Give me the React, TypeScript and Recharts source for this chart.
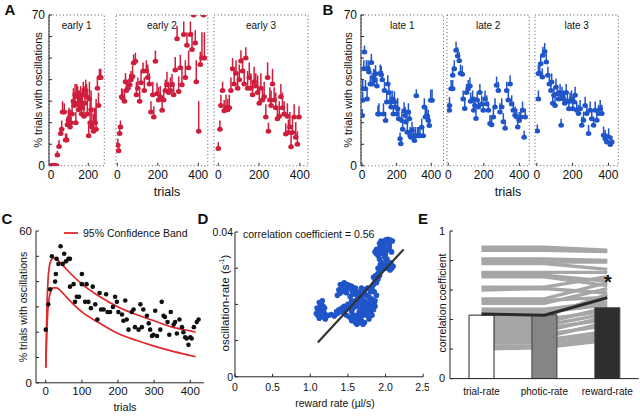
import React from 'react';
import {
  ScatterChart,
  Scatter,
  ComposedChart,
  Line,
  Bar,
  Cell,
  XAxis,
  YAxis,
  ErrorBar,
  ReferenceArea,
} from 'recharts';

const FONT = '"Liberation Sans", Arial, Helvetica, sans-serif';
const RED = '#cf1d3c';
const BLUE = '#1f55c8';
const BAND_RED = '#e3262c';

type Pt = [number, number, number]; // trial, % trials with oscillations, upper error

// ---- panel A: early sessions ----
const early1: Pt[] = [
  [0, 0, 0], [5, 0, 0], [10, 0, 0], [15, 0, 0], [20, 0, 0], [25, 0, 0], [30, 0, 0],
  [34, 5, 2], [43, 9, 3], [52, 15, 3], [57, 17, 4], [62, 25, 5], [71, 25, 4], [78, 12, 3],
  [84, 12, 3], [88, 19, 4], [93, 21, 5], [97, 22, 5], [102, 18, 8], [106, 20, 6], [113, 24, 7],
  [120, 30, 6], [125, 28, 6], [129, 33, 5], [133, 20, 5], [138, 32, 6], [143, 29, 8], [147, 26, 9],
  [152, 28, 7], [159, 30, 7], [164, 24, 8], [168, 27, 9], [173, 33, 6], [177, 23, 7], [182, 29, 8],
  [186, 35, 5], [191, 32, 6], [195, 24, 10], [202, 14, 5], [206, 31, 8], [210, 20, 10],
  [215, 26, 9], [219, 18, 9], [228, 16, 8], [233, 20, 7], [237, 20, 7], [242, 17, 14],
  [249, 36, 5], [255, 28, 6], [260, 41, 4], [267, 41, 4],
];
const early2: Pt[] = [
  [2, 9.5, 3], [6, 7, 2], [11, 15, 4], [15, 18, 3], [21, 32, 4], [26, 31.5, 4], [35, 30, 5],
  [40, 39, 4], [44, 35, 5], [52, 36, 4], [61, 37.6, 5], [67, 40, 4], [75, 41.5, 5], [80, 47.7, 4],
  [89, 48.5, 4], [94, 33, 6], [101, 36, 5], [110, 30, 5], [117, 38.6, 5], [127, 44, 4],
  [133, 35, 6], [143, 44, 5], [150, 41, 6], [158, 38, 5], [166, 25, 5], [175, 33, 6],
  [180, 22.6, 5], [188, 48.5, 5], [196, 33.5, 5], [204, 30.5, 6], [212, 32, 5], [221, 25.8, 6],
  [229, 30.5, 5], [237, 35, 5], [245, 37.6, 6], [253, 34, 5], [262, 35, 6], [270, 37.6, 5],
  [278, 33, 6], [286, 44.5, 6], [295, 59, 6], [303, 34.5, 7], [311, 45.5, 6], [319, 37.6, 7],
  [328, 61, 6], [336, 41, 8], [344, 56, 6], [352, 45.5, 8], [361, 61, 6], [369, 54, 8],
  [377, 70, 0], [385, 57, 6], [390, 39, 10], [402, 16, 14], [410, 47, 6], [418, 50, 12],
  [426, 70, 0], [430, 50, 12],
];
const early3: Pt[] = [
  [0, 8, 3], [8, 17, 4], [13, 28, 5], [21, 35, 4], [29, 25.5, 5], [38, 27, 6], [46, 26, 5],
  [54, 27, 6], [62, 35, 6], [70, 45, 5], [78, 38, 7], [87, 43, 6], [95, 36, 6], [103, 40, 7],
  [111, 48.6, 5], [119, 44, 6], [127, 38, 7], [135, 50, 5], [144, 36, 8], [152, 41, 7],
  [160, 36, 7], [168, 33, 6], [176, 39, 7], [184, 37, 6], [193, 34, 8], [201, 29, 7],
  [209, 36, 7], [217, 30.5, 6], [225, 32, 7], [233, 22.6, 6], [242, 41, 7], [246, 16, 4],
  [253, 30.5, 6], [259, 28, 7], [266, 38, 7], [274, 30.5, 6], [282, 27, 7], [290, 21.8, 6],
  [299, 23, 7], [307, 32, 6], [315, 27, 7], [323, 24, 6], [331, 14.8, 5], [339, 23, 6],
  [344, 15.5, 6], [351, 18, 7], [357, 8.8, 6], [364, 15.5, 7], [372, 22.6, 6], [380, 13.3, 7],
  [388, 10, 6], [396, 22.6, 5],
];

// ---- panel B: late sessions ----
const late1: Pt[] = [
  [1, 23.4, 3], [4, 30.4, 4], [4, 35.8, 4], [10, 45, 4], [14, 52.8, 3], [20, 35.8, 4],
  [25, 45, 4], [29, 31, 4], [35, 45, 4], [40, 43.5, 4], [48, 38, 4], [54, 48, 4], [59, 38, 5],
  [67, 41, 4], [72, 39.6, 5], [78, 42.7, 4], [86, 37, 4], [92, 24, 4], [98, 24, 5],
  [105, 43, 4], [111, 42.3, 4], [117, 40, 4], [124, 24, 5], [130, 35, 4], [136, 21, 4],
  [143, 29.6, 5], [149, 38, 4], [155, 34, 4], [162, 29.6, 5], [168, 27.3, 4], [174, 31, 4],
  [181, 24, 4], [187, 29.6, 5], [193, 27.3, 4], [201, 24, 4], [206, 26.5, 5], [212, 21.8, 4],
  [220, 12.5, 3], [224, 10.2, 3], [230, 21, 4], [235, 17, 4], [243, 25.5, 4], [249, 23.4, 4],
  [254, 20.3, 4], [262, 15.6, 4], [268, 25, 4], [274, 21.8, 4], [278, 14, 4], [283, 13.3, 4],
  [289, 16.4, 4], [297, 14, 4], [303, 11.7, 3], [308, 14, 4], [314, 32.5, 3], [320, 14, 4],
  [328, 14, 4], [335, 14, 4], [345, 17.9, 4], [354, 14, 4], [360, 27.3, 4], [366, 22.6, 4],
  [374, 23.4, 4], [383, 21, 5], [389, 18.7, 5], [397, 30.4, 5], [405, 30.4, 5],
];
const late2: Pt[] = [
  [6, 25.8, 3], [7, 28, 4], [16, 35.8, 4], [25, 35.8, 4], [25, 42, 4], [34, 45, 4],
  [44, 53.6, 4], [53, 51, 4], [62, 48.8, 4], [69, 43, 4], [79, 42.5, 4], [84, 31, 4],
  [93, 26.6, 4], [103, 34, 4], [112, 35.8, 4], [122, 37, 4], [126, 30, 4], [137, 31, 4],
  [144, 25.8, 4], [150, 28, 4], [156, 22, 4], [163, 30.5, 4], [169, 27.3, 4], [178, 34, 4],
  [188, 28.7, 4], [197, 25.8, 4], [207, 31, 4], [216, 28.7, 4], [226, 25.8, 4], [235, 19.6, 4],
  [244, 19, 4], [254, 22.6, 4], [263, 27.3, 4], [272, 37.4, 4], [282, 35, 4], [291, 25, 4],
  [301, 27.3, 4], [310, 20.4, 4], [320, 17.4, 4], [329, 35, 4], [338, 30.5, 4], [348, 38, 4],
  [357, 28.7, 4], [366, 25.8, 4], [376, 23.5, 4], [385, 22.6, 4], [391, 18, 4], [399, 21, 4],
  [408, 22.6, 4], [418, 25.8, 4], [427, 13.3, 3], [433, 22.6, 4],
];
const late3: Pt[] = [
  [3, 16.2, 3], [9, 31, 4], [9, 42.8, 4], [17, 42.8, 4], [22, 47.4, 4], [31, 41.2, 4],
  [34, 51.3, 4], [44, 53, 4], [53, 48.2, 4], [62, 42, 4], [70, 38, 4], [79, 35, 4],
  [83, 38.9, 4], [89, 29, 4], [96, 32.7, 4], [102, 28, 4], [107, 36.5, 4], [115, 33.5, 4],
  [122, 31, 4], [130, 34, 4], [136, 18.8, 3], [141, 32.7, 4], [149, 31, 4], [156, 29, 4],
  [164, 34, 4], [171, 30, 4], [179, 26.5, 4], [186, 30, 4], [194, 31, 4], [201, 26.5, 4],
  [209, 29.6, 4], [214, 32.7, 4], [223, 25.8, 4], [233, 24.3, 4], [242, 26.5, 4], [251, 18.8, 4],
  [261, 21.2, 4], [270, 28, 4], [279, 24.3, 4], [289, 15, 4], [298, 25.8, 4], [307, 21.8, 4],
  [317, 18.8, 4], [326, 25.8, 4], [335, 21.2, 4], [345, 24.3, 4], [354, 26.5, 4], [363, 24.3, 4],
  [373, 14.2, 4], [382, 12.6, 4], [391, 11, 4], [401, 13.4, 4], [410, 9.9, 3], [419, 11, 3],
];
const pctTicks = [0, 10, 20, 30, 40, 50, 60, 70];

// ---- panel C: pooled trials with 95% band ----
const cTrials = [
  0, 7, 12, 17, 26, 28, 30, 35, 41, 47, 51, 56, 63, 67, 67, 77, 81, 86, 92, 100, 100, 109, 113,
  118, 125, 130, 137, 143, 149, 153, 160, 167, 171, 178, 186, 192, 197, 201, 211, 215, 220, 224,
  229, 238, 243, 247, 257, 262, 266, 270, 280, 285, 289, 294, 298, 303, 308, 317, 321, 326, 330,
  337, 342, 346, 354, 358, 363, 370, 377, 381, 386, 390, 395, 400, 404, 410, 418, 423,
];
const cPct = [
  21, 31, 37, 50, 40, 43, 49, 47, 54, 47, 51, 48, 49, 49, 38, 39, 32, 34, 34, 39, 43, 32, 39,
  32, 29.5, 38, 31, 25, 35.5, 29, 29, 35, 28, 28, 30, 34, 32, 28, 27, 24.5, 32.5, 25,
  21, 28, 29, 22, 21, 31, 22, 29, 26.5, 23.5, 21, 18.5, 19, 28.5, 18.5, 21, 32, 26.5, 26,
  24, 19, 28, 23, 24, 19.5, 25, 22, 20, 18, 17.5, 15, 18, 17.5, 22, 24, 25,
];
const bandTrials = [0, 3, 6, 10, 15, 20, 30, 40, 50, 70, 100, 150, 200, 250, 300, 350, 400, 415];
const bandUpper = [6, 28, 40, 46, 48.5, 49.3, 49, 47.5, 46, 43, 39, 34, 30, 27, 24.5, 22, 20.5, 20];
const bandLower = [6, 20, 29, 34, 36.5, 37.5, 37.5, 36.5, 35, 32, 28, 23.5, 19.5, 16.8, 14.5, 12.5, 10.8, 10.3];

// ---- panel D: oscillation rate vs reward rate ----
const rewardRate = [
  1.08, 1.10, 1.12, 1.10, 1.13, 1.15, 1.16, 1.14, 1.17, 1.19, 1.18, 1.20, 1.22, 1.19,
  1.09, 1.12, 1.15, 1.17, 1.12,
  1.25, 1.28, 1.32, 1.36, 1.40, 1.44, 1.47, 1.35, 1.38, 1.42, 1.45,
  1.38, 1.40, 1.43, 1.46, 1.48, 1.50, 1.52, 1.55, 1.58, 1.56, 1.53, 1.60, 1.62,
  1.36, 1.39, 1.42, 1.45, 1.49, 1.55, 1.60, 1.65, 1.68, 1.72, 1.76,
  1.50, 1.52, 1.55, 1.57, 1.58, 1.60, 1.62, 1.65, 1.68, 1.70, 1.72, 1.62, 1.65, 1.68, 1.70,
  1.72, 1.75, 1.77, 1.80, 1.82, 1.78, 1.75, 1.73, 1.70, 1.67, 1.84, 1.86, 1.85, 1.82, 1.78,
  1.75, 1.72, 1.68, 1.65, 1.62, 1.58, 1.55,
  1.48, 1.52, 1.55, 1.60, 1.63, 1.66, 1.70, 1.74, 1.78, 1.80, 1.83, 1.86, 1.88, 1.85,
  1.60, 1.63, 1.66, 1.70, 1.57, 1.53,
  1.80, 1.82, 1.84, 1.86, 1.88, 1.90, 1.92, 1.90, 1.93, 1.95, 1.98, 2.00, 2.03, 2.06, 2.08, 2.05,
  1.84, 1.87, 1.90, 1.93, 1.96, 1.99, 2.02, 2.10, 2.07,
  1.95, 1.92, 1.90, 1.88, 1.86, 1.88, 1.92, 1.96, 1.98, 2.00, 2.02, 1.98, 1.95, 1.97, 2.00,
  2.03, 2.06, 2.09, 2.05, 1.99, 1.94, 1.90, 1.92, 1.94, 2.01, 2.05, 2.08,
];
const oscRate = [
  0.0175, 0.0170, 0.0180, 0.0185, 0.0190, 0.0200, 0.0210, 0.0195, 0.0185, 0.0175, 0.0165, 0.0160, 0.0168, 0.0190,
  0.0190, 0.0162, 0.0168, 0.0195, 0.0205,
  0.0170, 0.0172, 0.0168, 0.0175, 0.0180, 0.0178, 0.0185, 0.0180, 0.0185, 0.0190, 0.0195,
  0.0240, 0.0255, 0.0250, 0.0240, 0.0232, 0.0245, 0.0252, 0.0250, 0.0240, 0.0228, 0.0222, 0.0235, 0.0225,
  0.0225, 0.0230, 0.0235, 0.0260, 0.0255, 0.0240, 0.0245, 0.0235, 0.0245, 0.0240, 0.0245,
  0.0200, 0.0190, 0.0180, 0.0170, 0.0160, 0.0150, 0.0145, 0.0150, 0.0155, 0.0145, 0.0150, 0.0170, 0.0180, 0.0190, 0.0200,
  0.0210, 0.0200, 0.0190, 0.0180, 0.0170, 0.0160, 0.0170, 0.0180, 0.0170, 0.0165, 0.0185, 0.0195, 0.0205, 0.0215, 0.0220,
  0.0225, 0.0230, 0.0215, 0.0205, 0.0195, 0.0200, 0.0210,
  0.0170, 0.0165, 0.0155, 0.0165, 0.0160, 0.0175, 0.0185, 0.0195, 0.0205, 0.0195, 0.0205, 0.0210, 0.0225, 0.0235,
  0.0210, 0.0215, 0.0225, 0.0225, 0.0190, 0.0200,
  0.0235, 0.0245, 0.0255, 0.0265, 0.0260, 0.0270, 0.0280, 0.0285, 0.0290, 0.0295, 0.0300, 0.0305, 0.0300, 0.0295, 0.0300, 0.0310,
  0.0275, 0.0280, 0.0300, 0.0310, 0.0305, 0.0315, 0.0325, 0.0305, 0.0315,
  0.0315, 0.0325, 0.0335, 0.0340, 0.0345, 0.0352, 0.0355, 0.0350, 0.0345, 0.0340, 0.0350, 0.0360, 0.0365, 0.0372, 0.0378,
  0.0380, 0.0378, 0.0375, 0.0365, 0.0330, 0.0340, 0.0345, 0.0368, 0.0375, 0.0370, 0.0355, 0.0345,
];
const fitX = [1.1, 2.24];
const fitY = [0.0095, 0.0352];

// ---- panel E: correlation coefficients per session ----
const eCategories = ['trial-rate', 'photic-rate', 'reward-rate'];
const eBars = [0.43, 0.432, 0.48];
const eMean = [0.437, 0.43, 0.548];
const sessTrial = [0.89, 0.87, 0.81, 0.8, 0.78, 0.72, 0.71, 0.69, 0.62, 0.6, 0.54, 0.53, 0.51, 0.47, 0.45, 0.42, 0.4, 0.38, 0.36, 0.34, 0.32, 0.3, 0.28, 0.26, 0.24, 0.22, 0.2];
const sessPhotic = [0.89, 0.87, 0.81, 0.79, 0.78, 0.72, 0.7, 0.69, 0.62, 0.61, 0.54, 0.53, 0.51, 0.47, 0.45, 0.42, 0.4, 0.38, 0.36, 0.34, 0.32, 0.3, 0.28, 0.26, 0.24, 0.22, 0.21];
const sessReward = [0.87, 0.86, 0.8, 0.79, 0.74, 0.72, 0.66, 0.63, 0.69, 0.58, 0.65, 0.55, 0.61, 0.52, 0.5, 0.57, 0.46, 0.48, 0.44, 0.4, 0.42, 0.36, 0.38, 0.32, 0.3, 0.28, 0.26];
const barFills = ['#ffffff', '#858585', '#2e2e2e'];

const tickStyle = (size: number) => ({ fontSize: size, fill: '#111', fontFamily: FONT });

function Txt({ x, y, size, rotate, bold, children }: any) {
  return (
    <div
      style={{
        position: 'absolute',
        left: x,
        top: y,
        transform: `translate(-50%, -50%)${rotate ? ' rotate(-90deg)' : ''}`,
        fontSize: size,
        fontWeight: bold ? 700 : 400,
        whiteSpace: 'nowrap',
        fontFamily: FONT,
        color: '#111',
        lineHeight: 1,
      }}
    >
      {children}
    </div>
  );
}

function TrialPanel({ pts, x0, x1, domain, ticks, title, color, yAxis }: any) {
  const Y0 = 14.7;
  const Y1 = 165.5;
  const L = 40, T = 10, R = 6, B = 30;
  const data = (pts as Pt[]).map(([t, p, e]) => ({ t, p, e: [0, e] }));
  return (
    <div style={{ position: 'absolute', left: x0 - L, top: Y0 - T }}>
      <ScatterChart
        width={L + (x1 - x0) + R}
        height={T + (Y1 - Y0) + B}
        margin={{ top: T, right: R, bottom: 0, left: yAxis ? 0 : L }}
      >
        <XAxis
          type="number"
          dataKey="t"
          domain={domain}
          ticks={ticks}
          allowDataOverflow
          axisLine={false}
          tickSize={-3}
          tickMargin={8}
          height={B}
          stroke="#333"
          tick={tickStyle(12)}
        />
        <YAxis
          type="number"
          dataKey="p"
          domain={[0, 70]}
          ticks={pctTicks}
          allowDataOverflow
          hide={!yAxis}
          width={L}
          stroke="#222"
          tickSize={-3}
          tickMargin={7}
          tick={tickStyle(12)}
          tickFormatter={(v: number) => (v === 0 || v === 70 ? String(v) : '')}
        />
        <ReferenceArea
          x1={domain[0]}
          x2={domain[1]}
          y1={0}
          y2={70}
          fill="none"
          stroke="#555"
          strokeDasharray="1 2.5"
          ifOverflow="visible"
          label={{ value: title, position: 'insideTop', offset: 7, fontSize: 10, fill: '#111', fontFamily: FONT }}
        />
        <Scatter
          data={data}
          fill={color}
          isAnimationActive={false}
          shape={(p: any) => <ellipse cx={p.cx} cy={p.cy} rx={2.8} ry={2.5} fill={color} />}
        >
          <ErrorBar dataKey="e" direction="y" width={0} stroke={color} strokeWidth={1.5} />
        </Scatter>
      </ScatterChart>
    </div>
  );
}

export default function App() {
  const dots = cTrials.map((x, i) => ({ x, y: cPct[i] }));
  const upper = bandTrials.map((x, i) => ({ x, y: bandUpper[i] }));
  const lower = bandTrials.map((x, i) => ({ x, y: bandLower[i] }));
  const cloud = rewardRate.map((x, i) => ({ x, y: oscRate[i] }));
  const fit = fitX.map((x, i) => ({ x, y: fitY[i] }));
  const eRows = eCategories.map((name, ci) => {
    const row: any = { name, bar: eBars[ci], mean: eMean[ci] };
    const src = [sessTrial, sessPhotic, sessReward][ci];
    src.forEach((v, i) => {
      row['s' + i] = v;
    });
    return row;
  });

  return (
    <div
      style={{
        position: 'absolute',
        left: 0,
        top: 0,
        width: 640,
        height: 420,
        background: '#fff',
        overflow: 'hidden',
        fontFamily: FONT,
      }}
    >
      {/* A */}
      <Txt x={10} y={9} size={15} bold>A</Txt>
      <Txt x={38} y={90} size={11} rotate>% trials with oscillations</Txt>
      <TrialPanel pts={early1} x0={49} x1={104.3} domain={[-11, 286]} ticks={[0, 200]} title="early 1" color={RED} yAxis />
      <TrialPanel pts={early2} x0={115.5} x1={207.3} domain={[-7, 447]} ticks={[0, 200, 400]} title="early 2" color={RED} />
      <TrialPanel pts={early3} x0={214} x1={308} domain={[-21, 440]} ticks={[0, 200, 400]} title="early 3" color={RED} />
      <Txt x={167} y={192} size={12.5}>trials</Txt>

      {/* B */}
      <Txt x={328} y={9} size={15} bold>B</Txt>
      <Txt x={348} y={90} size={11} rotate>% trials with oscillations</Txt>
      <TrialPanel pts={late1} x0={361} x1={443.5} domain={[-6, 471]} ticks={[0, 200, 400]} title="late 1" color={BLUE} yAxis />
      <TrialPanel pts={late2} x0={447} x1={529.3} domain={[-7, 456]} ticks={[0, 200, 400]} title="late 2" color={BLUE} />
      <TrialPanel pts={late3} x0={535} x1={618.3} domain={[-10, 455]} ticks={[0, 200, 400]} title="late 3" color={BLUE} />
      <Txt x={508} y={192} size={12.5}>trials</Txt>

      {/* C */}
      <Txt x={7} y={218} size={15} bold>C</Txt>
      <Txt x={23} y={307} size={10.5} rotate>% trials with oscillations</Txt>
      <div style={{ position: 'absolute', left: 6, top: 220.7 }}>
        <ScatterChart width={30 + 168 + 6} height={10 + 151.8 + 30} margin={{ top: 10, right: 6, bottom: 0, left: 0 }}>
          <XAxis
            type="number"
            dataKey="x"
            domain={[-27, 438]}
            ticks={[0, 100, 200, 300, 400]}
            allowDataOverflow
            height={30}
            stroke="#222"
            tickSize={-3}
            tickMargin={7}
            tick={tickStyle(11.5)}
          />
          <YAxis
            type="number"
            dataKey="y"
            domain={[0, 60]}
            ticks={[0, 10, 20, 30, 40, 50, 60]}
            allowDataOverflow
            width={30}
            stroke="#222"
            tickSize={-3}
            tickMargin={7}
            tick={tickStyle(11.5)}
            tickFormatter={(v: number) => (v === 0 || v === 60 ? String(v) : '')}
          />
          <Scatter
            data={upper}
            isAnimationActive={false}
            line={{ stroke: BAND_RED, strokeWidth: 1.7 }}
            lineJointType="monotoneX"
            shape={() => <g />}
          />
          <Scatter
            data={lower}
            isAnimationActive={false}
            line={{ stroke: BAND_RED, strokeWidth: 1.7 }}
            lineJointType="monotoneX"
            shape={() => <g />}
          />
          <Scatter
            data={dots}
            isAnimationActive={false}
            shape={(p: any) => <circle cx={p.cx} cy={p.cy} r={2.3} fill="#111" />}
          />
        </ScatterChart>
      </div>
      <div style={{ position: 'absolute', left: 64, top: 227, display: 'flex', alignItems: 'center', fontSize: 10.5, color: '#111', fontFamily: FONT, whiteSpace: 'nowrap' }}>
        <svg width={14} height={4} style={{ marginRight: 5 }}>
          <line x1={0} y1={2} x2={14} y2={2} stroke={BAND_RED} strokeWidth={1.8} />
        </svg>
        95% Confidence Band
      </div>
      <Txt x={125} y={407} size={11}>trials</Txt>

      {/* D */}
      <Txt x={203} y={218} size={15} bold>D</Txt>
      <Txt x={225} y={303} size={11.5} rotate>
        oscillation-rate (s<sup style={{ fontSize: '0.6em' }}>-1</sup>)
      </Txt>
      <div style={{ position: 'absolute', left: 194.5, top: 221.7 }}>
        <ScatterChart width={40 + 188.2 + 6} height={10 + 144.8 + 30} margin={{ top: 10, right: 6, bottom: 0, left: 0 }}>
          <XAxis
            type="number"
            dataKey="x"
            domain={[0, 2.5]}
            ticks={[0, 0.5, 1, 1.5, 2, 2.5]}
            allowDataOverflow
            height={30}
            stroke="#222"
            tickSize={-3}
            tickMargin={10}
            tick={tickStyle(10.5)}
            tickFormatter={(v: number) => (v === 0 ? '0' : v.toFixed(1))}
          />
          <YAxis
            type="number"
            dataKey="y"
            domain={[0, 0.04]}
            ticks={[0, 0.01, 0.02, 0.03, 0.04]}
            allowDataOverflow
            width={40}
            stroke="#222"
            tickSize={-3}
            tickMargin={5}
            tick={tickStyle(10.5)}
            tickFormatter={(v: number) => (v === 0 ? '0' : v === 0.04 ? '0.04' : '')}
          />
          <Scatter
            data={cloud}
            isAnimationActive={false}
            shape={(p: any) => <circle cx={p.cx} cy={p.cy} r={2.8} fill={BLUE} />}
          />
          <Scatter
            data={fit}
            isAnimationActive={false}
            line={{ stroke: '#333', strokeWidth: 2.2 }}
            shape={() => <g />}
          />
        </ScatterChart>
      </div>
      <div style={{ position: 'absolute', left: 243, top: 228.5, fontSize: 10.5, color: '#111', fontFamily: FONT, whiteSpace: 'nowrap', lineHeight: 1 }}>
        correlation coefficient = 0.56
      </div>
      <Txt x={335} y={403} size={10.5}>reward rate (µl/s)</Txt>

      {/* E */}
      <Txt x={423} y={218} size={15} bold>E</Txt>
      <Txt x={442} y={303} size={10.5} rotate>correlation coefficient</Txt>
      <div style={{ position: 'absolute', left: 420.25, top: 220.7 }}>
        <ComposedChart width={30 + 188.75} height={10 + 147.6 + 30} data={eRows} margin={{ top: 10, right: 0, bottom: 0, left: 0 }}>
          <XAxis
            dataKey="name"
            height={30}
            stroke="#222"
            tickLine={false}
            tickSize={0}
            tickMargin={9}
            tick={tickStyle(10)}
            interval={0}
          />
          <YAxis
            type="number"
            domain={[0, 1]}
            ticks={[0, 0.2, 0.4, 0.6, 0.8, 1]}
            allowDataOverflow
            width={30}
            stroke="#222"
            tickSize={-3}
            tickMargin={8}
            tick={tickStyle(11)}
            tickFormatter={(v: number) => (v === 0 || v === 1 ? String(v) : '')}
          />
          {sessTrial.map((_, i) => (
            <Line
              key={i}
              dataKey={'s' + i}
              type="linear"
              stroke="#a6a6a6"
              strokeWidth={3.4}
              dot={false}
              activeDot={false}
              isAnimationActive={false}
              zIndex={250}
            />
          ))}
          <Bar dataKey="bar" barSize={25} isAnimationActive={false}>
            {barFills.map((f, i) => (
              <Cell key={i} fill={f} stroke={i === 0 ? '#222' : '#444'} strokeWidth={1} />
            ))}
          </Bar>
          <Line
            dataKey="mean"
            type="linear"
            stroke="#2a2a2a"
            strokeWidth={3}
            dot={false}
            activeDot={false}
            isAnimationActive={false}
          />
        </ComposedChart>
      </div>
      <Txt x={608} y={282} size={20} bold>*</Txt>
    </div>
  );
}
